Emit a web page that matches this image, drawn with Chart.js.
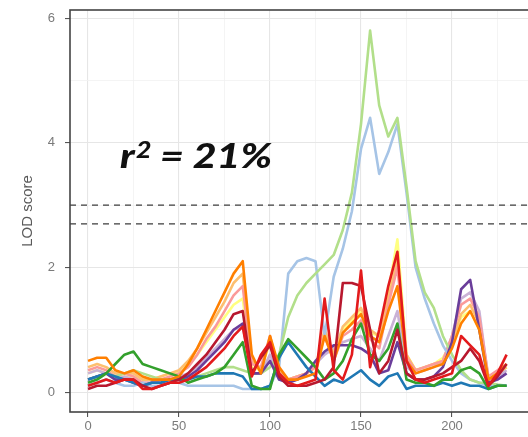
<!DOCTYPE html>
<html>
<head>
<meta charset="utf-8">
<script src="https://cdn.jsdelivr.net/npm/chart.js@4.4.1/dist/chart.umd.min.js"></script>
<style>
  html, body { margin: 0; padding: 0; width: 528px; height: 437px; overflow: hidden; background: #fff; }
  #wrap { position: absolute; left: 0; top: 0; width: 560px; height: 437px; }
</style>
</head>
<body>
<div id="wrap"><canvas id="lod" width="560" height="437"></canvas></div>
<script>
// Map position (cM) of each scan point
const positions = [0,5,10,15,20,25,30,35,40,45,50,55,60,65,70,75,80,85,90,95,
  100,105,110,115,120,125,130,135,140,145,150,155,160,165,170,175,180,185,190,195,
  200,205,210,215,220,225,230];

// LOD profiles, one per trait
const lightGreen = [0.2,0.25,0.3,0.25,0.3,0.35,0.3,0.25,0.2,0.2,
  0.2,0.25,0.25,0.3,0.35,0.4,0.4,0.35,0.3,0.3,
  0.4,0.6,1.2,1.55,1.75,1.9,2.05,2.2,2.6,3.2,
  4.3,5.8,4.6,4.1,4.4,3.3,2.1,1.6,1.35,0.9,
  0.6,0.35,0.2,0.15,0.15,0.12,0.1];
const lightBlue = [0.1,0.15,0.2,0.15,0.1,0.1,0.15,0.1,0.1,0.15,
  0.15,0.1,0.1,0.1,0.1,0.1,0.1,0.05,0.05,0.05,
  0.1,0.4,1.9,2.1,2.15,2.1,0.9,1.85,2.3,2.9,
  3.9,4.4,3.5,3.85,4.3,3.2,2.0,1.5,1.1,0.75,
  0.5,0.3,0.2,0.15,0.1,0.1,0.1];
const blue = [0.2,0.25,0.3,0.25,0.2,0.15,0.1,0.15,0.15,0.2,
  0.2,0.2,0.25,0.25,0.3,0.3,0.3,0.25,0.05,0.05,
  0.1,0.55,0.8,0.6,0.4,0.25,0.1,0.2,0.15,0.25,
  0.35,0.2,0.1,0.25,0.3,0.05,0.1,0.1,0.1,0.15,
  0.1,0.15,0.1,0.1,0.05,0.1,0.1];
const green = [0.15,0.2,0.3,0.45,0.6,0.65,0.45,0.4,0.35,0.3,
  0.25,0.15,0.2,0.25,0.3,0.4,0.6,0.8,0.1,0.05,
  0.05,0.6,0.85,0.7,0.55,0.4,0.2,0.3,0.5,0.85,
  1.1,0.6,0.5,0.7,1.1,0.2,0.15,0.15,0.1,0.2,
  0.2,0.35,0.4,0.3,0.05,0.1,0.1];
const pink = [0.35,0.4,0.35,0.25,0.3,0.25,0.15,0.15,0.2,0.25,
  0.3,0.4,0.6,0.85,1.05,1.3,1.55,1.7,0.45,0.4,
  0.9,0.3,0.2,0.25,0.3,0.4,0.9,0.5,0.9,1.0,
  1.15,0.85,0.7,1.4,2.0,0.55,0.35,0.4,0.45,0.5,
  0.9,1.4,1.5,1.2,0.25,0.35,0.45];
const red = [0.1,0.15,0.2,0.15,0.2,0.2,0.05,0.05,0.1,0.15,
  0.15,0.2,0.3,0.4,0.55,0.7,0.9,1.05,0.25,0.6,
  0.8,0.3,0.15,0.1,0.15,0.2,1.5,0.35,0.2,0.6,
  1.95,0.4,1.0,1.7,2.25,0.5,0.2,0.15,0.2,0.25,
  0.3,0.9,0.75,0.6,0.1,0.3,0.6];
const darkRed = [0.05,0.1,0.1,0.15,0.2,0.2,0.1,0.05,0.1,0.15,
  0.2,0.3,0.45,0.6,0.8,1.0,1.25,1.3,0.3,0.55,
  0.75,0.25,0.1,0.1,0.1,0.15,0.2,0.4,1.75,1.75,
  1.7,1.0,0.3,0.5,1.0,0.3,0.2,0.2,0.25,0.3,
  0.4,0.5,0.7,0.5,0.1,0.25,0.45];
const lightOrange = [0.4,0.45,0.4,0.3,0.3,0.3,0.2,0.2,0.25,0.3,
  0.35,0.5,0.7,0.95,1.2,1.45,1.75,1.9,0.5,0.35,
  0.85,0.35,0.2,0.25,0.3,0.4,1.0,0.6,1.05,1.2,
  1.35,1.0,0.9,1.5,2.1,0.6,0.35,0.4,0.45,0.5,
  0.8,1.25,1.4,1.1,0.2,0.3,0.4];
const orange = [0.5,0.55,0.55,0.35,0.3,0.35,0.25,0.2,0.2,0.2,
  0.25,0.45,0.7,1.0,1.3,1.6,1.9,2.1,0.6,0.3,
  0.9,0.4,0.2,0.2,0.25,0.3,0.9,0.5,0.95,1.1,
  1.25,0.9,0.8,1.3,1.7,0.5,0.3,0.35,0.4,0.45,
  0.7,1.1,1.3,1.0,0.2,0.3,0.45];
const lavender = [0.3,0.35,0.3,0.2,0.25,0.2,0.15,0.15,0.2,0.2,
  0.25,0.3,0.4,0.55,0.7,0.85,1.0,1.05,0.3,0.3,
  0.6,0.25,0.15,0.2,0.3,0.45,0.6,0.7,0.8,0.85,
  0.9,0.7,0.5,0.9,1.3,0.4,0.3,0.35,0.4,0.5,
  0.9,1.5,1.6,1.3,0.2,0.25,0.35];
const purple = [0.2,0.25,0.3,0.2,0.2,0.15,0.1,0.15,0.15,0.2,
  0.2,0.25,0.35,0.5,0.65,0.8,1.0,1.1,0.3,0.3,
  0.5,0.2,0.15,0.2,0.3,0.5,0.65,0.75,0.75,0.75,
  0.7,0.6,0.3,0.35,0.8,0.3,0.2,0.2,0.25,0.4,
  0.8,1.65,1.8,1.0,0.15,0.2,0.3];
const yellow = [0.3,0.35,0.3,0.2,0.25,0.25,0.2,0.2,0.25,0.3,
  0.3,0.45,0.6,0.8,1.0,1.2,1.4,1.5,0.4,0.35,
  0.8,0.3,0.2,0.25,0.3,0.4,0.95,0.55,1.0,1.15,
  1.3,0.95,0.9,1.6,2.45,0.6,0.35,0.4,0.45,0.55,
  0.8,1.2,1.3,1.0,0.2,0.3,0.4];

// Significance thresholds (dashed)
const thresholds = [3.0, 2.7];

// Axis labels
const xTickLabels = [0, 50, 100, 150, 200];
const yTickLabels = [0, 2, 4, 6];

const X_MIN = -9.9, X_MAX = 250;
const Y_MIN = -0.32, Y_MAX = 6.13;
const xGrid = [0,25,50,75,100,125,150,175,200,225,250];
const yGrid = [0,1,2,3,4,5,6];

const traces = [
  { data: red,         color: '#E31A1C' },
  { data: darkRed,     color: '#B8182E' },
  { data: orange,      color: '#FF7F00' },
  { data: green,       color: '#33A02C' },
  { data: blue,        color: '#1F78B4' },
  { data: purple,      color: '#6A3D9A' },
  { data: lightGreen,  color: '#B2DF8A' },
  { data: lightBlue,   color: '#A6C4E6' },
  { data: pink,        color: '#FB9A99' },
  { data: lightOrange, color: '#FDBF6F' },
  { data: lavender,    color: '#CAB2D6' },
  { data: yellow,      color: '#FFFF80' }
];

const datasets = [];
thresholds.forEach(t => {
  datasets.push({
    data: [{ x: X_MIN, y: t }, { x: X_MAX, y: t }],
    borderColor: '#3c3c3c',
    borderWidth: 1.2,
    borderDash: [6, 5],
    pointRadius: 0,
    order: 0
  });
});
traces.forEach((tr, k) => {
  datasets.push({
    data: positions.map((x, i) => ({ x: x, y: tr.data[i] })),
    borderColor: tr.color,
    borderWidth: 2.6,
    pointRadius: 0,
    tension: 0,
    borderJoinStyle: 'round',
    order: k + 1
  });
});

const isMajorX = v => xTickLabels.includes(v);
const isMajorY = v => yTickLabels.includes(v);

const framePlugin = {
  id: 'frame',
  afterDraw(chart) {
    const { ctx, chartArea: a } = chart;
    ctx.save();
    ctx.strokeStyle = '#444';
    ctx.lineWidth = 1.6;
    ctx.strokeRect(a.left, a.top, a.right - a.left, a.bottom - a.top);
    ctx.restore();
  }
};

// "r² = 21%" label, bold italic with a raised 2
const annotationPlugin = {
  id: 'rsquared',
  afterDraw(chart) {
    const ctx = chart.ctx;
    const big = 'italic 900 34px Lato, "Liberation Sans", sans-serif';
    const small = 'italic 900 22px Lato, "Liberation Sans", sans-serif';
    ctx.save();
    ctx.fillStyle = '#111';
    ctx.textBaseline = 'alphabetic';
    ctx.font = big;
    const wR = ctx.measureText('r').width;
    const wRest = ctx.measureText(' = 21%').width;
    ctx.font = small;
    const w2 = ctx.measureText('2').width;
    const total = wR + w2 + 1 + wRest;
    const sx = 152 / total;
    ctx.translate(120, 168);
    ctx.scale(sx, 1);
    ctx.font = big;
    ctx.fillText('r', 0, 0);
    ctx.font = small;
    ctx.fillText('2', wR + 1, -10);
    ctx.font = big;
    ctx.fillText(' = 21%', wR + w2 + 1, 0);
    ctx.restore();
  }
};

function draw() {
  new Chart(document.getElementById('lod'), {
    type: 'line',
    data: { datasets },
    options: {
      responsive: false,
      animation: false,
      layout: { padding: { top: 10, right: 17, left: 0, bottom: 0 } },
      plugins: { legend: { display: false }, tooltip: { enabled: false } },
      scales: {
        x: {
          type: 'linear',
          min: X_MIN,
          max: X_MAX,
          afterBuildTicks: s => { s.ticks = xGrid.map(v => ({ value: v })); },
          afterFit: s => { s.height = 25; s.paddingLeft = 0; s.paddingRight = 0; },
          border: { display: false },
          grid: {
            color: c => (c.tick && isMajorX(c.tick.value)) ? '#e6e6e6' : '#f1f1f1',
            lineWidth: c => (c.tick && isMajorX(c.tick.value)) ? 1.1 : 0.8,
            drawTicks: true,
            tickLength: 5,
            tickColor: c => (c.tick && isMajorX(c.tick.value)) ? '#555' : 'rgba(0,0,0,0)'
          },
          ticks: {
            autoSkip: false,
            maxRotation: 0,
            padding: 2,
            color: '#7a7a7a',
            font: { size: 13, family: '"Liberation Sans", Arial, sans-serif' },
            callback: v => isMajorX(v) ? String(v) : ''
          }
        },
        y: {
          type: 'linear',
          min: Y_MIN,
          max: Y_MAX,
          afterBuildTicks: s => { s.ticks = yGrid.map(v => ({ value: v })); },
          afterFit: s => { s.width = 70; s.paddingTop = 0; s.paddingBottom = 0; },
          border: { display: false },
          grid: {
            color: c => (c.tick && isMajorY(c.tick.value)) ? '#e6e6e6' : '#f1f1f1',
            lineWidth: c => (c.tick && isMajorY(c.tick.value)) ? 1.1 : 0.8,
            drawTicks: true,
            tickLength: 5,
            tickColor: c => (c.tick && isMajorY(c.tick.value)) ? '#555' : 'rgba(0,0,0,0)'
          },
          ticks: {
            autoSkip: false,
            padding: 10,
            color: '#7a7a7a',
            font: { size: 13, family: '"Liberation Sans", Arial, sans-serif' },
            callback: v => isMajorY(v) ? String(v) : ''
          },
          title: {
            display: true,
            text: 'LOD score',
            color: '#5a5a5a',
            padding: { top: 19, bottom: 0 },
            font: { size: 15, family: '"Liberation Sans", Arial, sans-serif' }
          }
        }
      }
    },
    plugins: [framePlugin, annotationPlugin]
  });
}

// make sure the label font is ready before drawing
if (document.fonts && document.fonts.load) {
  Promise.all([
    document.fonts.load('italic 900 34px Lato'),
    document.fonts.load('13px "Liberation Sans"')
  ]).then(draw, draw);
} else {
  draw();
}
</script>
</body>
</html>
